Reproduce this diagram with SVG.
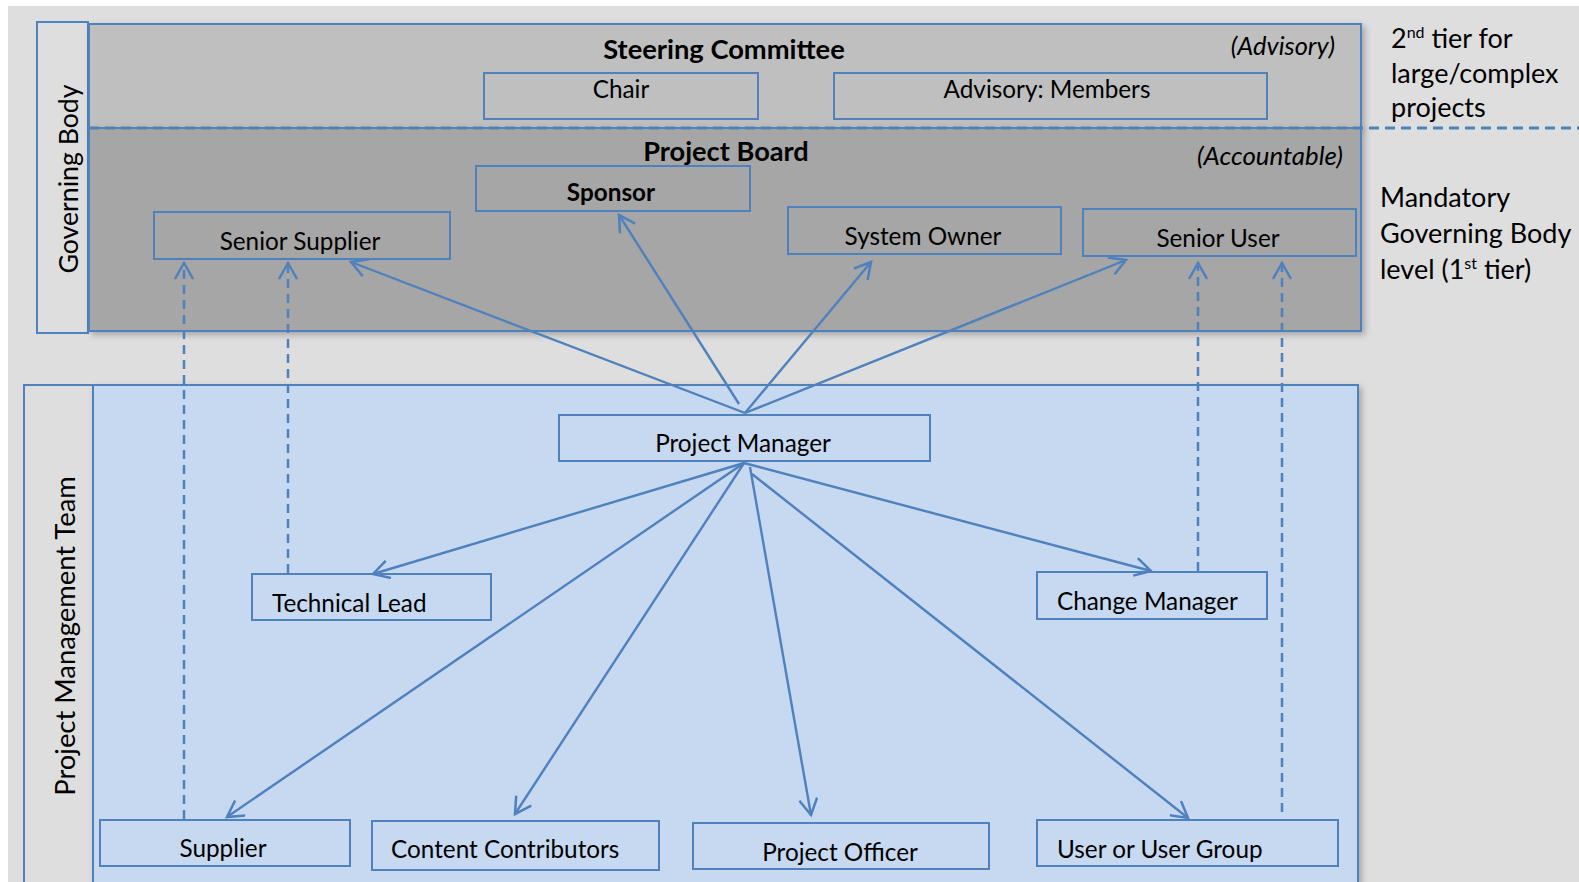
<svg xmlns="http://www.w3.org/2000/svg" width="1579" height="882" viewBox="0 0 1579 882">
<style>
  .t { font-family: Lato, "Open Sans", sans-serif; fill: #000; }
  .n { font-size: 24.3px; }
  .box { stroke: #4f81bd; stroke-width: 2; }
  .gbox { fill: none; }
  .conn { stroke: #4f81bd; stroke-width: 2.4; fill: none; }
  .dash { stroke: #4f81bd; stroke-width: 2.5; fill: none; stroke-dasharray: 9 6; }
  .side { font-size: 27px; }
</style>
<defs>
  <marker id="arr" viewBox="0 0 20 20" refX="17" refY="10" markerWidth="20" markerHeight="20" markerUnits="userSpaceOnUse" orient="auto">
    <path d="M1,1 L17,10 L1,19" fill="none" stroke="#4f81bd" stroke-width="2.5"/>
  </marker>
  <filter id="sh" x="-5%" y="-5%" width="110%" height="115%">
    <feDropShadow dx="3" dy="3" stdDeviation="3" flood-color="#000" flood-opacity="0.25"/>
  </filter>
</defs>
<rect x="0" y="0" width="1579" height="882" fill="#ffffff"/>
<rect x="8" y="6" width="1571" height="876" fill="#dedede"/>

<g id="governing-body-label">
  <rect class="box" x="37" y="22" width="51" height="311" fill="#dedede"/>
  <text class="t" x="0" y="0" font-size="26.7" text-anchor="middle" transform="translate(78,179) rotate(-90)">Governing Body</text>
</g>

<g id="steering-committee">
  <rect class="box" x="89" y="24" width="1272" height="104" fill="#bfbfbf" filter="url(#sh)"/>
  <text class="t" x="724" y="59" font-size="27.3" font-weight="bold" text-anchor="middle">Steering Committee</text>
  <text class="t" x="1335" y="55" font-size="25.4" font-style="italic" text-anchor="end">(Advisory)</text>
</g>

<g id="project-board">
  <rect class="box" x="89" y="128" width="1272" height="203" fill="#a6a6a6" filter="url(#sh)"/>
  <text class="t" x="726" y="161" font-size="27.2" font-weight="bold" text-anchor="middle">Project Board</text>
  <text class="t" x="1343" y="165" font-size="25.8" font-style="italic" text-anchor="end">(Accountable)</text>
</g>

<g id="pmt-label">
  <rect class="box" x="24" y="385" width="69" height="500" fill="#dedede"/>
  <text class="t" x="0" y="0" font-size="27.4" text-anchor="middle" transform="translate(75,636) rotate(-90)">Project Management Team</text>
</g>

<g id="project-management-team">
  <rect class="box" x="93" y="385" width="1265" height="500" fill="#c6d9f0" filter="url(#sh)"/>
</g>

<g id="tier-line">
  <line x1="89" y1="128" x2="1579" y2="128" stroke="#4f81bd" stroke-width="3" stroke-dasharray="10 6"/>
</g>

<g id="side-notes">
  <text class="t side" x="1391" y="48">2<tspan font-size="16" dy="-10">nd</tspan><tspan dy="10"> tier for</tspan></text>
  <text class="t side" x="1391" y="83">large/complex</text>
  <text class="t side" x="1391" y="117">projects</text>
  <text class="t side" x="1380" y="207">Mandatory</text>
  <text class="t side" x="1380" y="243">Governing Body</text>
  <text class="t side" x="1380" y="279">level (1<tspan font-size="16" dy="-10">st</tspan><tspan dy="10"> tier)</tspan></text>
</g>

<g id="connectors">
  <line class="conn" x1="745" y1="413" x2="351" y2="262" marker-end="url(#arr)"/>
  <line class="conn" x1="739" y1="404" x2="619" y2="215" marker-end="url(#arr)"/>
  <line class="conn" x1="745" y1="413" x2="871" y2="262" marker-end="url(#arr)"/>
  <line class="conn" x1="745" y1="413" x2="1126" y2="260" marker-end="url(#arr)"/>
  <line class="conn" x1="744" y1="463" x2="373" y2="574" marker-end="url(#arr)"/>
  <line class="conn" x1="744" y1="463" x2="1151" y2="571" marker-end="url(#arr)"/>
  <line class="conn" x1="744" y1="463" x2="227" y2="817" marker-end="url(#arr)"/>
  <line class="conn" x1="744" y1="463" x2="515" y2="814" marker-end="url(#arr)"/>
  <line class="conn" x1="750" y1="467" x2="811" y2="815" marker-end="url(#arr)"/>
  <line class="conn" x1="752" y1="474" x2="1188" y2="818" marker-end="url(#arr)"/>
  <line class="dash" x1="184" y1="819" x2="184" y2="263" marker-end="url(#arr)"/>
  <line class="dash" x1="288" y1="573" x2="288" y2="263" marker-end="url(#arr)"/>
  <line class="dash" x1="1198" y1="571" x2="1198" y2="263" marker-end="url(#arr)"/>
  <line class="dash" x1="1282" y1="812" x2="1282" y2="263" marker-end="url(#arr)"/>
</g>

<g id="chair">
  <rect class="box gbox" x="484" y="73" width="274" height="46"/>
  <text class="t n" x="621" y="98" text-anchor="middle">Chair</text>
</g>
<g id="advisory-members">
  <rect class="box gbox" x="834" y="73" width="433" height="46"/>
  <text class="t n" x="1047" y="98" text-anchor="middle">Advisory: Members</text>
</g>
<g id="sponsor">
  <rect class="box gbox" x="476" y="166" width="274" height="45" stroke-width="3"/>
  <text class="t n" x="611" y="201" font-weight="bold" text-anchor="middle">Sponsor</text>
</g>
<g id="senior-supplier">
  <rect class="box gbox" x="154" y="212" width="296" height="47"/>
  <text class="t n" x="300" y="250" text-anchor="middle">Senior Supplier</text>
</g>
<g id="system-owner">
  <rect class="box gbox" x="788" y="207" width="273" height="47"/>
  <text class="t n" x="923" y="245" text-anchor="middle">System Owner</text>
</g>
<g id="senior-user">
  <rect class="box gbox" x="1083" y="209" width="273" height="47"/>
  <text class="t n" x="1218" y="247" text-anchor="middle">Senior User</text>
</g>
<g id="project-manager">
  <rect class="box gbox" x="559" y="415" width="371" height="46"/>
  <text class="t n" x="743" y="452" text-anchor="middle">Project Manager</text>
</g>
<g id="technical-lead">
  <rect class="box gbox" x="252" y="574" width="239" height="46"/>
  <text class="t n" x="272" y="612">Technical Lead</text>
</g>
<g id="change-manager">
  <rect class="box gbox" x="1037" y="572" width="230" height="47"/>
  <text class="t n" x="1057" y="610">Change Manager</text>
</g>
<g id="supplier">
  <rect class="box gbox" x="100" y="820" width="250" height="46"/>
  <text class="t n" x="223" y="857" text-anchor="middle">Supplier</text>
</g>
<g id="content-contributors">
  <rect class="box gbox" x="372" y="821" width="287" height="49"/>
  <text class="t n" x="391" y="858">Content Contributors</text>
</g>
<g id="project-officer">
  <rect class="box gbox" x="693" y="823" width="296" height="46"/>
  <text class="t n" x="840" y="861" text-anchor="middle">Project Officer</text>
</g>
<g id="user-group">
  <rect class="box gbox" x="1037" y="820" width="301" height="46"/>
  <text class="t n" x="1057" y="858">User or User Group</text>
</g>
</svg>
